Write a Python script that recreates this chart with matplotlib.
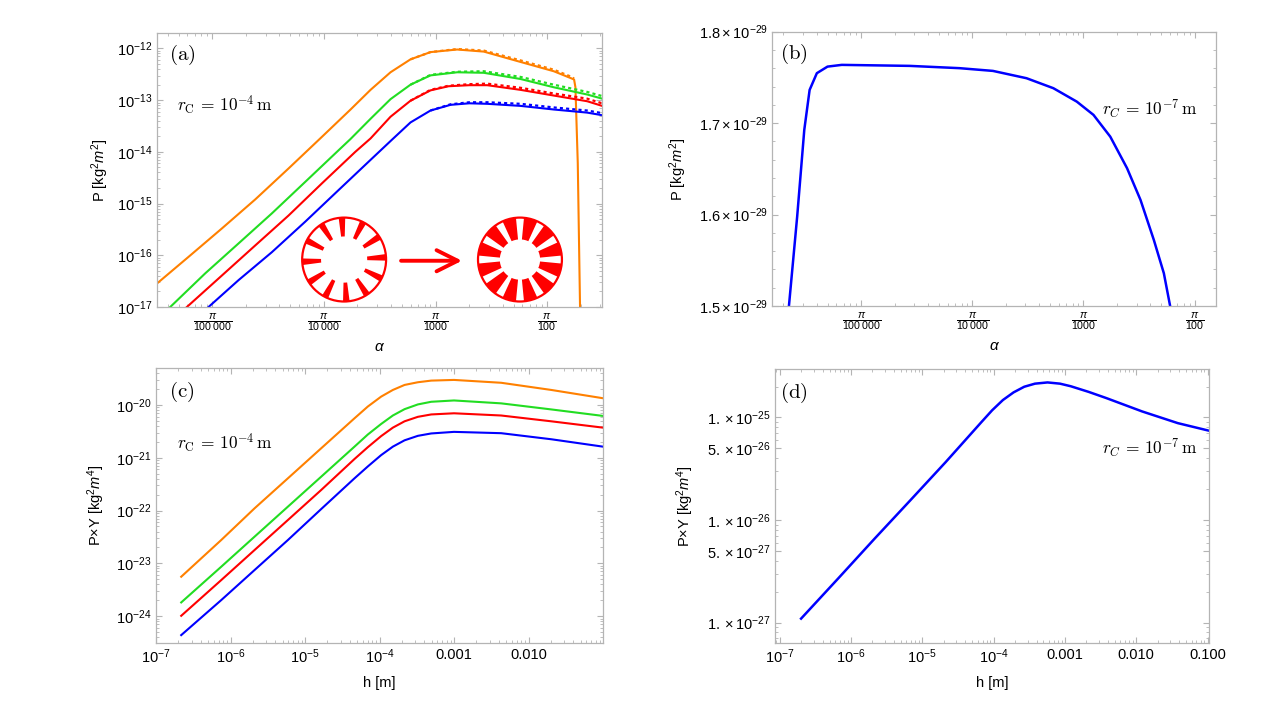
import numpy as np
import matplotlib
matplotlib.use('Agg')
import matplotlib.pyplot as plt
from matplotlib.ticker import FixedLocator, FixedFormatter, MultipleLocator, NullFormatter
from matplotlib.patches import Circle, Wedge

# ------------------- fonts -------------------
plt.rcParams['font.family'] = ['Liberation Sans', 'DejaVu Sans']
plt.rcParams['mathtext.fontset'] = 'custom'
plt.rcParams['mathtext.rm'] = 'Liberation Sans'
plt.rcParams['mathtext.it'] = 'Liberation Sans:italic'
plt.rcParams['mathtext.bf'] = 'Liberation Sans:bold'

ORANGE, GREEN, RED, BLUE = '#FF8000', '#22DD22', '#FF0000', '#0000FF'
FRAME = '#b4b4b4'

# ------------------- data (log10 values) -------------------
# (a) P vs alpha, r_C = 1e-4 m
a_orange_x = [-4.999, -4.715, -4.416, -4.118, -3.819, -3.521, -3.264, -3.085, -2.906, -2.727,
              -2.548, -2.309, -2.071, -1.742, -1.444, -1.295, -1.262, -1.250, -1.229, -1.205]
a_orange_y = [-16.548, -16.03, -15.48, -14.92, -14.32, -13.71, -13.18, -12.80, -12.46, -12.21,
              -12.07, -12.02, -12.06, -12.26, -12.44, -12.57, -12.60, -12.75, -14.22, -17.5]
a_green_x = [-4.879, -4.566, -4.267, -3.969, -3.670, -3.372, -3.264, -3.085, -2.906, -2.727,
             -2.548, -2.309, -2.071, -1.742, -1.444, -1.145, -1.011]
a_green_y = [-17.0, -16.35, -15.77, -15.19, -14.58, -13.97, -13.75, -13.36, -12.98, -12.70,
             -12.52, -12.46, -12.47, -12.59, -12.75, -12.89, -12.97]
a_red_x = [-4.730, -4.416, -4.118, -3.819, -3.521, -3.222, -3.085, -2.906, -2.727, -2.548,
           -2.386, -2.200, -2.040, -1.742, -1.444, -1.145, -1.011]
a_red_y = [-17.0, -16.39, -15.81, -15.23, -14.61, -14.00, -13.74, -13.32, -13.01, -12.81,
           -12.73, -12.71, -12.71, -12.80, -12.91, -13.02, -13.11]
a_blue_x = [-4.536, -4.267, -3.969, -3.670, -3.372, -3.073, -2.891, -2.727, -2.548, -2.369,
            -2.200, -2.040, -1.742, -1.444, -1.145, -1.011]
a_blue_y = [-17.0, -16.48, -15.94, -15.35, -14.74, -14.13, -13.76, -13.43, -13.20, -13.09,
            -13.06, -13.07, -13.11, -13.18, -13.24, -13.29]
# dashed companions (only visibly apart after the maximum)
a_orange_dx = [-2.727, -2.548, -2.309, -2.071, -1.742, -1.444, -1.295, -1.262]
a_orange_dy = [-12.21, -12.07, -12.01, -12.04, -12.23, -12.41, -12.54, -12.58]
a_green_dx = [-2.727, -2.548, -2.309, -2.071, -1.742, -1.444, -1.145, -1.011]
a_green_dy = [-12.70, -12.51, -12.45, -12.44, -12.55, -12.70, -12.84, -12.92]
a_red_dx = [-2.727, -2.548, -2.386, -2.200, -2.040, -1.742, -1.444, -1.145, -1.011]
a_red_dy = [-13.01, -12.80, -12.72, -12.69, -12.68, -12.76, -12.87, -12.97, -13.06]
a_blue_dx = [-2.548, -2.369, -2.200, -2.040, -1.742, -1.444, -1.145, -1.011]
a_blue_dy = [-13.20, -13.08, -13.04, -13.04, -13.07, -13.14, -13.20, -13.25]

# (b) P vs alpha, r_C = 1e-7 m (P in units of 1e-29)
b_x = [-5.152, -5.078, -5.014, -4.966, -4.901, -4.805, -4.677, -4.066, -3.618, -3.317,
       -3.015, -2.774, -2.563, -2.413, -2.262, -2.111, -1.990, -1.870, -1.780, -1.722]
b_y = [1.5, 1.5977, 1.6926, 1.7363, 1.7546, 1.7618, 1.7637, 1.7626, 1.7601, 1.7571,
       1.7491, 1.7382, 1.7235, 1.7090, 1.6852, 1.6507, 1.6160, 1.5722, 1.5358, 1.4990]

# (c) P*Y vs h, r_C = 1e-4 m
c_x = [-6.662, -6.125, -5.678, -5.230, -4.783, -4.336, -4.157, -3.978, -3.821, -3.664,
       -3.485, -3.306, -3.0, -2.367, -1.694, -1.0]
c_orange = [-23.254, -22.559, -21.959, -21.390, -20.821, -20.253, -20.03, -19.842, -19.716, -19.621,
            -19.57, -19.539, -19.526, -19.58, -19.716, -19.873]
c_green = [-23.741, -23.065, -22.496, -21.927, -21.359, -20.790, -20.56, -20.36, -20.20, -20.08,
           -19.99, -19.94, -19.915, -19.97, -20.085, -20.208]
c_red = [-23.994, -23.318, -22.749, -22.180, -21.611, -21.024, -20.80, -20.59, -20.43, -20.31,
         -20.225, -20.18, -20.158, -20.20, -20.31, -20.43]
c_blue = [-24.360, -23.697, -23.128, -22.559, -21.972, -21.390, -21.165, -20.95, -20.79, -20.67,
          -20.585, -20.54, -20.51, -20.535, -20.65, -20.79]

# (d) P*Y vs h, r_C = 1e-7 m
d_x = [-6.700, -6.174, -5.673, -5.172, -4.672, -4.171, -4.021, -3.870, -3.720, -3.570,
       -3.420, -3.244, -3.069, -2.919, -2.668, -2.418, -1.917, -1.417, -0.991]
d_y = [-26.962, -26.566, -26.185, -25.811, -25.435, -25.045, -24.93, -24.83, -24.755, -24.70,
       -24.67, -24.658, -24.67, -24.695, -24.75, -24.811, -24.941, -25.055, -25.127]

alpha_ticks = [np.pi / 1e5, np.pi / 1e4, np.pi / 1e3, np.pi / 1e2]
alpha_labels = [r'$\frac{\pi}{100\,000}$', r'$\frac{\pi}{10\,000}$', r'$\frac{\pi}{1000}$', r'$\frac{\pi}{100}$']
h_ticks = [1e-7, 1e-6, 1e-5, 1e-4, 1e-3, 1e-2, 1e-1]
h_labels = [r'$10^{-7}$', r'$10^{-6}$', r'$10^{-5}$', r'$10^{-4}$', '0.001', '0.010', '0.100']
a_yticks = [1e-17, 1e-16, 1e-15, 1e-14, 1e-13, 1e-12]
c_yticks = [1e-24, 1e-23, 1e-22, 1e-21, 1e-20]
b_ticks = [1.5, 1.6, 1.7, 1.8]
d_ticks = [1e-27, 5e-27, 1e-26, 5e-26, 1e-25]
d_labels = [r'$1.\times10^{-27}$', r'$5.\times10^{-27}$', r'$1.\times10^{-26}$',
            r'$5.\times10^{-26}$', r'$1.\times10^{-25}$']


def L(v):
    return 10 ** np.asarray(v)


def log_minors(lo, hi, base_scale=1.0):
    out = []
    for n in range(-32, 2):
        for k in range(2, 10):
            v = k * base_scale * 10.0 ** n
            if lo <= v <= hi:
                out.append(v)
    return out


def style(ax):
    for s in ax.spines.values():
        s.set_color(FRAME)
        s.set_linewidth(0.9)
    ax.tick_params(which='both', direction='in', top=True, right=True, color=FRAME,
                   labelsize=10.5, labelcolor='black')
    ax.tick_params(which='major', length=4.5, width=0.8)
    ax.tick_params(which='minor', length=2.5, width=0.6)
    ax.xaxis.set_minor_formatter(NullFormatter())
    ax.yaxis.set_minor_formatter(NullFormatter())


def alpha_axis(ax):
    lo, hi = ax.get_xlim()
    ax.xaxis.set_major_locator(FixedLocator(alpha_ticks))
    ax.xaxis.set_major_formatter(FixedFormatter(alpha_labels))
    ax.xaxis.set_minor_locator(FixedLocator(log_minors(lo, hi, np.pi)))
    ax.xaxis.set_minor_formatter(NullFormatter())
    ax.tick_params(axis='x', which='major', labelsize=11)
    ax.set_xlabel(r'$\alpha$', fontsize=11)


def log_y(ax, majors):
    lo, hi = ax.get_ylim()
    ax.yaxis.set_major_locator(FixedLocator(majors))
    ax.yaxis.set_minor_locator(FixedLocator(log_minors(lo, hi)))
    ax.yaxis.set_minor_formatter(NullFormatter())


def h_axis(ax, n):
    lo, hi = ax.get_xlim()
    ax.xaxis.set_major_locator(FixedLocator(h_ticks[:n]))
    ax.xaxis.set_major_formatter(FixedFormatter(h_labels[:n]))
    ax.xaxis.set_minor_locator(FixedLocator(log_minors(lo, hi)))
    ax.xaxis.set_minor_formatter(NullFormatter())
    ax.set_xlabel('h [m]', fontsize=10.5, labelpad=7)


def panel_tag(ax, tag, x, y):
    ax.text(x, y, r'$\mathrm{(' + tag + ')}$', transform=ax.transAxes, fontsize=15,
            math_fontfamily='cm', ha='center', va='center')


fig = plt.figure(figsize=(12.8, 7.2), dpi=100)

# ------------------- (a) -------------------
ax = fig.add_axes([0.1227, 0.5736, 0.3477, 0.3806])
ax.set_xscale('log')
ax.set_yscale('log')
for xs, ys, c in [(a_orange_x, a_orange_y, ORANGE), (a_green_x, a_green_y, GREEN),
                  (a_red_x, a_red_y, RED), (a_blue_x, a_blue_y, BLUE)]:
    ax.plot(L(xs), L(ys), color=c, lw=1.5)
for xs, ys, c in [(a_orange_dx, a_orange_dy, ORANGE), (a_green_dx, a_green_dy, GREEN),
                  (a_red_dx, a_red_dy, RED), (a_blue_dx, a_blue_dy, BLUE)]:
    ax.plot(L(xs), L(ys), color=c, lw=1.6, ls=(0, (1.4, 1.4)))
ax.set_xlim(10 ** -4.997, 10 ** -1.011)
ax.set_ylim(1e-17, 10 ** -11.70)
style(ax)
alpha_axis(ax)
log_y(ax, a_yticks)
ax.set_ylabel(r'P [kg$^{2}\mathit{m}^{2}$]', fontsize=10.5)
ax.yaxis.set_label_coords(-0.103, 0.5)
panel_tag(ax, 'a', 0.056, 0.92)
ax.text(0.045, 0.734, r'$r_{\mathrm{C}}\, =\, 10^{-4}\,\mathrm{m}$', transform=ax.transAxes,
        fontsize=12.5, math_fontfamily='cm', ha='left', va='center')

# inset sketch: sparse spokes -> wide spokes
ins = ax.inset_axes([0.31, 0.0, 0.618, 0.35])
ins.set_xlim(0, 275)
ins.set_ylim(0, 96)
ins.set_aspect('equal')
ins.axis('off')
R = 42
c1, c2 = (49, 47.5), (225, 47.5)
ins.add_patch(Circle(c1, R, fill=False, ec=RED, lw=1.6))
for k in range(12):
    th = 93 + 30 * k
    ins.add_patch(Wedge(c1, R, th - 4.5, th + 4.5, width=R * 0.45, color=RED, lw=0))
ins.add_patch(Circle(c2, R, fill=False, ec=RED, lw=1.6))
for k in range(12):
    th = 75 + 30 * k
    ins.add_patch(Wedge(c2, R, th - 9.5, th + 9.5, width=R * 0.52, color=RED, lw=0))
ins.annotate('', xy=(167, 46.3), xytext=(106, 46.3),
             arrowprops=dict(arrowstyle='->', color=RED, lw=2.8, mutation_scale=38,
                             shrinkA=0, shrinkB=0))

# ------------------- (b) -------------------
ax = fig.add_axes([0.6035, 0.575, 0.3465, 0.381])
ax.set_xscale('log')
ax.plot(L(b_x), np.asarray(b_y) * 1e-29, color=BLUE, lw=1.8)
ax.set_xlim(10 ** -5.30, 10 ** -1.311)
ax.set_ylim(1.5e-29, 1.8e-29)
style(ax)
alpha_axis(ax)
ax.yaxis.set_major_locator(FixedLocator([t * 1e-29 for t in b_ticks]))
ax.yaxis.set_major_formatter(FixedFormatter([r'$%.1f\times10^{-29}$' % t for t in b_ticks]))
ax.yaxis.set_minor_locator(MultipleLocator(0.02e-29))
ax.set_ylabel(r'P [kg$^{2}\mathit{m}^{2}$]', fontsize=10.5)
ax.yaxis.set_label_coords(-0.189, 0.5)
panel_tag(ax, 'b', 0.048, 0.919)
ax.text(0.958, 0.718, r'$r_C\, =\, 10^{-7}\,\mathrm{m}$', transform=ax.transAxes,
        fontsize=12.5, math_fontfamily='cm', ha='right', va='center')

# ------------------- (c) -------------------
ax = fig.add_axes([0.1219, 0.1069, 0.3492, 0.382])
ax.set_xscale('log')
ax.set_yscale('log')
for ys, c in [(c_orange, ORANGE), (c_green, GREEN), (c_red, RED), (c_blue, BLUE)]:
    ax.plot(L(c_x), L(ys), color=c, lw=1.5)
ax.set_xlim(1e-7, 0.1)
ax.set_ylim(10 ** -24.51, 10 ** -19.30)
style(ax)
h_axis(ax, 6)
log_y(ax, c_yticks)
ax.set_ylabel(r'P$\times$Y [kg$^{2}\mathit{m}^{4}$]', fontsize=10.5)
ax.yaxis.set_label_coords(-0.110, 0.5)
panel_tag(ax, 'c', 0.058, 0.913)
ax.text(0.047, 0.727, r'$r_{\mathrm{C}}\, =\, 10^{-4}\,\mathrm{m}$', transform=ax.transAxes,
        fontsize=12.5, math_fontfamily='cm', ha='left', va='center')

# ------------------- (d) -------------------
ax = fig.add_axes([0.6055, 0.1069, 0.339, 0.3806])
ax.set_xscale('log')
ax.set_yscale('log')
ax.plot(L(d_x), L(d_y), color=BLUE, lw=1.8)
ax.set_xlim(10 ** -7.065, 10 ** -0.98)
ax.set_ylim(10 ** -27.2, 10 ** -24.527)
style(ax)
h_axis(ax, 7)
ax.yaxis.set_major_locator(FixedLocator(d_ticks))
ax.yaxis.set_major_formatter(FixedFormatter(d_labels))
ax.yaxis.set_minor_locator(FixedLocator(log_minors(10 ** -27.2, 10 ** -24.527)))
ax.yaxis.set_minor_formatter(NullFormatter())
ax.set_ylabel(r'P$\times$Y [kg$^{2}\mathit{m}^{4}$]', fontsize=10.5)
ax.yaxis.set_label_coords(-0.182, 0.5)
panel_tag(ax, 'd', 0.044, 0.912)
ax.text(0.975, 0.712, r'$r_C\, =\, 10^{-7}\,\mathrm{m}$', transform=ax.transAxes,
        fontsize=12.5, math_fontfamily='cm', ha='right', va='center')

fig.savefig('out.png', dpi=100)
